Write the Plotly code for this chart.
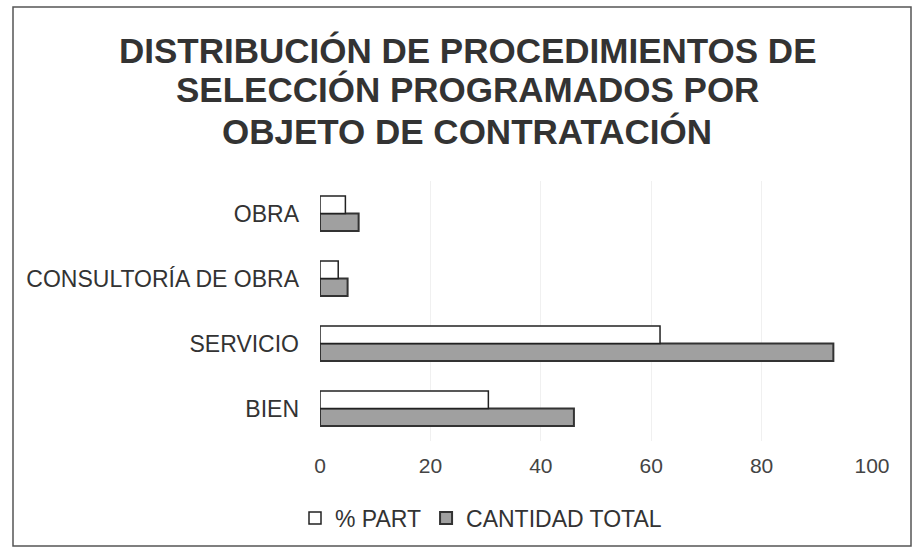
import plotly.graph_objects as go

categories = ["BIEN", "SERVICIO", "CONSULTORÍA DE OBRA", "OBRA"]
cantidad_total = [46, 93, 5, 7]
pct_part = [30.5, 61.6, 3.3, 4.6]
x_ticks = [0, 20, 40, 60, 80, 100]
title_lines = ["DISTRIBUCIÓN DE PROCEDIMIENTOS DE", "SELECCIÓN PROGRAMADOS POR", "OBJETO DE CONTRATACIÓN"]

W, H = 918, 551
L, R, T, B = 320, 46, 181, 110
pw, ph = W - L - R, H - T - B

def px_x(p):
    return (p - L) / pw

def px_y(p):
    return (H - B - p) / ph

font = "Liberation Sans, Arial, sans-serif"

fig = go.Figure()
fig.add_trace(go.Bar(
    y=categories, x=cantidad_total, orientation="h", name="CANTIDAD TOTAL",
    marker=dict(color="#a0a0a0", line=dict(color="#333333", width=2)),
))
fig.add_trace(go.Bar(
    y=categories, x=pct_part, orientation="h", name="% PART",
    marker=dict(color="#ffffff", line=dict(color="#222222", width=1.5)),
))

title_y = [50, 90, 131]
annotations = [
    dict(text="<b>%s</b>" % line, xref="paper", yref="paper",
         x=px_x(467), y=px_y(yc), xanchor="center", yanchor="middle",
         showarrow=False, font=dict(family=font, size=35, color="#333333"))
    for line, yc in zip(title_lines, title_y)
]

fig.update_layout(
    width=W, height=H,
    margin=dict(l=L, r=R, t=T, b=B),
    paper_bgcolor="white", plot_bgcolor="white",
    barmode="group", bargap=0.46, bargroupgap=0,
    font=dict(family=font, color="#333333"),
    annotations=annotations,
    xaxis=dict(
        range=[0, 100], tickvals=x_ticks, showgrid=True, gridcolor="#f0f0f0",
        zeroline=False, showline=False, tickfont=dict(size=21, color="#444444"),
        ticklabelstandoff=10,
    ),
    yaxis=dict(
        showgrid=False, zeroline=False, showline=False,
        tickfont=dict(size=23, color="#333333"), ticklabelstandoff=20,
    ),
    legend=dict(
        orientation="h", traceorder="reversed",
        x=px_x(481), xanchor="center", y=px_y(518), yanchor="middle",
        font=dict(size=23, color="#333333"), itemwidth=30,
    ),
    showlegend=True,
    shapes=[dict(
        type="rect", xref="paper", yref="paper",
        x0=px_x(13), x1=px_x(911), y0=px_y(546), y1=px_y(7),
        line=dict(color="#555555", width=1.5), fillcolor="rgba(0,0,0,0)",
        layer="below",
    )],
)

fig.write_html("out.html")
